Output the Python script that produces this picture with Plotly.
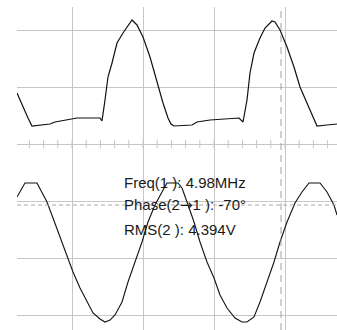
import numpy as np
import plotly.graph_objects as go

# Channel 1 (pulse waveform): time in ns, level in divisions
ch1_t = [-177.46, -169.01, -161.97, -156.34, -145.07, -130.99, -123.94, -107.04, -92.96,
         -60.56, -57.75, -53.52, -49.30, -43.66, -36.62, -28.17, -15.49, -8.45, 0.0,
         9.86, 19.72, 28.17, 35.21, 39.44, 43.66, 69.01, 76.06, 94.37, 135.21, 140.85,
         146.48, 150.70, 156.34, 164.79, 171.83, 181.69, 185.92, 192.96, 202.82, 212.68,
         221.13, 230.99, 240.85, 245.07, 259.15, 273.24]
ch1_v = [0.895, 0.649, 0.456, 0.316, 0.333, 0.351, 0.386, 0.421, 0.456,
         0.456, 0.404, 0.772, 1.175, 1.421, 1.772, 1.947, 2.175, 2.088, 1.877,
         1.526, 1.070, 0.719, 0.456, 0.351, 0.316, 0.333, 0.386, 0.421, 0.456, 0.386,
         0.772, 1.246, 1.596, 1.860, 2.035, 2.158, 2.140, 2.000, 1.702, 1.351,
         1.000, 0.719, 0.421, 0.316, 0.333, 0.351]

# Channel 2 (sine waveform)
ch2_t = [-177.46, -170.42, -166.20, -149.30, -142.25, -135.21, -126.76, -116.90, -107.04,
         -98.59, -88.73, -78.87, -70.42, -60.56, -53.52, -46.48, -39.44, -29.58, -21.13,
         -11.27, -1.41, 7.04, 16.90, 26.76, 33.80, 49.30, 54.93, 61.97, 71.83, 80.28,
         90.14, 100.0, 108.45, 118.31, 129.58, 139.44, 146.48, 156.34, 164.79, 174.65,
         184.51, 192.96, 202.82, 214.08, 223.94, 233.80, 249.30, 259.15, 269.01, 273.24]
ch2_v = [-0.930, -0.772, -0.684, -0.684, -0.842, -1.018, -1.298, -1.632, -1.947,
         -2.246, -2.526, -2.772, -2.965, -3.070, -3.123, -3.088, -3.000, -2.772, -2.421,
         -2.070, -1.719, -1.368, -1.070, -0.842, -0.684, -0.684, -0.772, -1.018, -1.368, -1.719,
         -2.070, -2.351, -2.649, -2.877, -3.053, -3.123, -3.123, -3.035, -2.772, -2.421,
         -2.070, -1.719, -1.368, -1.035, -0.842, -0.684, -0.684, -0.842, -1.070, -1.246]

ARROW = '<span style="font-family:DejaVu Sans">\u2192</span>'
measure_labels = ["Freq(1 ): 4.98MHz", "Phase(2" + ARROW + "1 ): -70\u00b0", "RMS(2 ): 4.394V"]
measure_t = -29.6
measure_v = [-0.68, -1.07, -1.50]

cursor_t = 194.4          # vertical cursor (ns)
ch2_ref_level = -1.07     # channel 2 reference marker (div)
minor_ticks = list(np.arange(-160, 280, 20))

X_RANGE = [-177.46, 273.24]
Y_RANGE = [-3.263, 2.4035]
GRID = "#c6c6c6"

fig = go.Figure()

# minor tick marks on the centre horizontal graticule
fig.add_trace(go.Scatter(x=minor_ticks, y=[0] * len(minor_ticks), mode="markers",
                         marker=dict(symbol="line-ns", size=6,
                                     line=dict(color=GRID, width=1)),
                         hoverinfo="skip", showlegend=False))

fig.add_hline(y=ch2_ref_level, line=dict(color="#a8a8a8", width=1, dash="4px,3px"))
fig.add_vline(x=cursor_t, line=dict(color="#a0a0a0", width=1, dash="7px,5px"))

fig.add_trace(go.Scatter(x=ch1_t, y=ch1_v, mode="lines",
                         line=dict(color="#111111", width=1.2), showlegend=False))
fig.add_trace(go.Scatter(x=ch2_t, y=ch2_v, mode="lines",
                         line=dict(color="#111111", width=1.1), showlegend=False))

for lab, v in zip(measure_labels, measure_v):
    fig.add_annotation(x=measure_t, y=v, text=lab, showarrow=False,
                       xanchor="left", yanchor="middle",
                       font=dict(family="Liberation Sans, Arial",
                                 size=15, color="#1a1a1a"))

fig.update_xaxes(range=X_RANGE, tick0=0, dtick=100, showgrid=True, gridcolor=GRID,
                 gridwidth=1, zeroline=False, showticklabels=False, ticks="",
                 showline=False, fixedrange=True)
fig.update_yaxes(range=Y_RANGE, tick0=0, dtick=1, showgrid=True, gridcolor=GRID,
                 gridwidth=1, zeroline=False, showticklabels=False, ticks="",
                 showline=False, fixedrange=True)

fig.update_layout(width=337, height=330, margin=dict(l=17, r=0, t=7, b=0),
                  paper_bgcolor="white", plot_bgcolor="white", showlegend=False)

fig.write_html("out.html", config={"displayModeBar": False})
